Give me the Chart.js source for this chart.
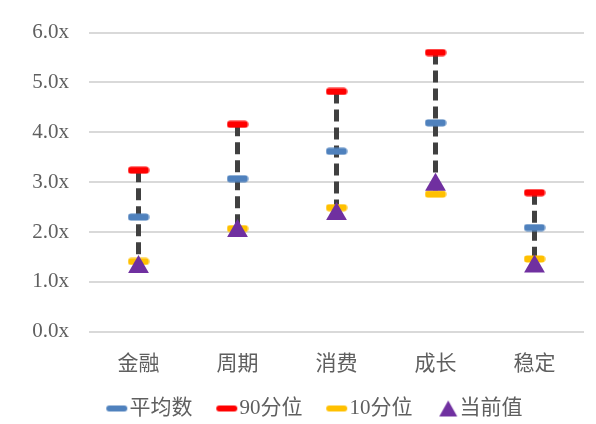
<!DOCTYPE html>
<html>
<head>
<meta charset="utf-8">
<script src="https://cdn.jsdelivr.net/npm/chart.js@4.4.1/dist/chart.umd.min.js"></script>
<style>
  html, body { margin: 0; padding: 0; background: #fff; }
  #wrap { width: 596px; height: 424px; }
</style>
</head>
<body>
<div id="wrap"><canvas id="valChart"></canvas></div>
<script>
// 估值区间：各风格 PE 分位与当前值
const categories = ['金融', '周期', '消费', '成长', '稳定'];
const meanVals = [2.30, 3.07, 3.62, 4.19, 2.09];
const p90Vals  = [3.24, 4.16, 4.82, 5.60, 2.79];
const p10Vals  = [1.41, 2.07, 2.49, 2.76, 1.46];
const curVals  = [1.30, 2.02, 2.36, 2.95, 1.31];
const yTicks   = [0, 1, 2, 3, 4, 5, 6];

const TEXT_COLOR = '#5f5f5f';
const FONT_FAMILY = '"Liberation Serif", "Noto Sans CJK SC", serif';
const COLORS = ['#4F81BD', '#FF0000', '#FFC000', '#7030A0'];

// 横杠标记：小圆角矩形画在离屏 canvas 上当作 pointStyle
function makeBarMarker(color) {
    const c = document.createElement('canvas');
    c.width = 22;
    c.height = 8;
    const g = c.getContext('2d');
    g.fillStyle = color;
    g.beginPath();
    g.roundRect(0.5, 0.5, 21, 7, 3);
    g.fill();
    return c;
}

// 图例图标：宽画布，图形靠右贴近文字
function makeLegendIcon(color, isTriangle) {
    const c = document.createElement('canvas');
    c.width = 64;
    c.height = 20;
    const g = c.getContext('2d');
    g.fillStyle = color;
    g.beginPath();
    if (isTriangle) {
        g.moveTo(45, 2);
        g.lineTo(54, 18);
        g.lineTo(36, 18);
        g.closePath();
    } else {
        g.roundRect(33, 7, 21, 6, 3);
    }
    g.fill();
    return c;
}

const barMarkers = COLORS.slice(0, 3).map(makeBarMarker);
const legendIcons = COLORS.map((c, i) => makeLegendIcon(c, i === 3));

// 每个分类一条虚线，从 90 分位连到最低点
const rangeSets = categories.map((cat, i) => ({
    type: 'line',
    label: '_range' + i,
    data: [
        { x: cat, y: p90Vals[i] },
        { x: cat, y: Math.min(p10Vals[i], curVals[i]) }
    ],
    borderColor: '#404040',
    borderWidth: 5,
    borderDash: [12, 6],
    borderCapStyle: 'butt',
    pointRadius: 0,
    pointHoverRadius: 0,
    order: 10
}));

function markerSet(label, values, style, order, color, radius) {
    return {
        type: 'line',
        label: label,
        data: values,
        showLine: false,
        pointStyle: style,
        pointRadius: radius,
        pointHoverRadius: radius,
        backgroundColor: color,
        borderColor: color,
        borderWidth: 0,
        order: order
    };
}

const datasets = [
    markerSet('平均数', meanVals, barMarkers[0], 4, COLORS[0], 11),
    markerSet('90分位', p90Vals, barMarkers[1], 3, COLORS[1], 11),
    markerSet('10分位', p10Vals, barMarkers[2], 2, COLORS[2], 11),
    markerSet('当前值', curVals, 'triangle', 1, COLORS[3], 12),
    ...rangeSets
];

new Chart(document.getElementById('valChart'), {
    type: 'line',
    data: { labels: categories, datasets: datasets },
    options: {
        responsive: true,
        maintainAspectRatio: false,
        animation: false,
        layout: { padding: { top: 12, right: 6, left: 24, bottom: 0 } },
        plugins: {
            tooltip: { enabled: false },
            legend: {
                position: 'bottom',
                maxHeight: 35,
                labels: {
                    usePointStyle: true,
                    pointStyleWidth: 27.5,
                    boxHeight: 20,
                    padding: 9,
                    color: TEXT_COLOR,
                    font: { family: FONT_FAMILY, size: 21 },
                    generateLabels: chart => {
                        const items = Chart.defaults.plugins.legend.labels.generateLabels(chart);
                        return items
                            .filter(item => !item.text.startsWith('_'))
                            .map(item => Object.assign(item, { pointStyle: legendIcons[item.datasetIndex] }));
                    },
                    sort: (a, b) => a.datasetIndex - b.datasetIndex
                }
            }
        },
        scales: {
            x: {
                offset: true,
                grid: { display: false },
                border: { display: false },
                ticks: {
                    color: TEXT_COLOR,
                    padding: 12,
                    font: { family: FONT_FAMILY, size: 21 }
                }
            },
            y: {
                min: yTicks[0],
                max: yTicks[yTicks.length - 1],
                afterBuildTicks: scale => {
                    scale.ticks = yTicks.map(v => ({ value: v }));
                },
                afterFit: scale => { scale.width = 65; },
                grid: { color: '#D9D9D9', lineWidth: 2, drawTicks: false },
                border: { display: false },
                ticks: {
                    color: TEXT_COLOR,
                    padding: 20,
                    font: { family: FONT_FAMILY, size: 21 },
                    callback: v => v.toFixed(1) + 'x'
                }
            }
        }
    }
});
</script>
</body>
</html>
